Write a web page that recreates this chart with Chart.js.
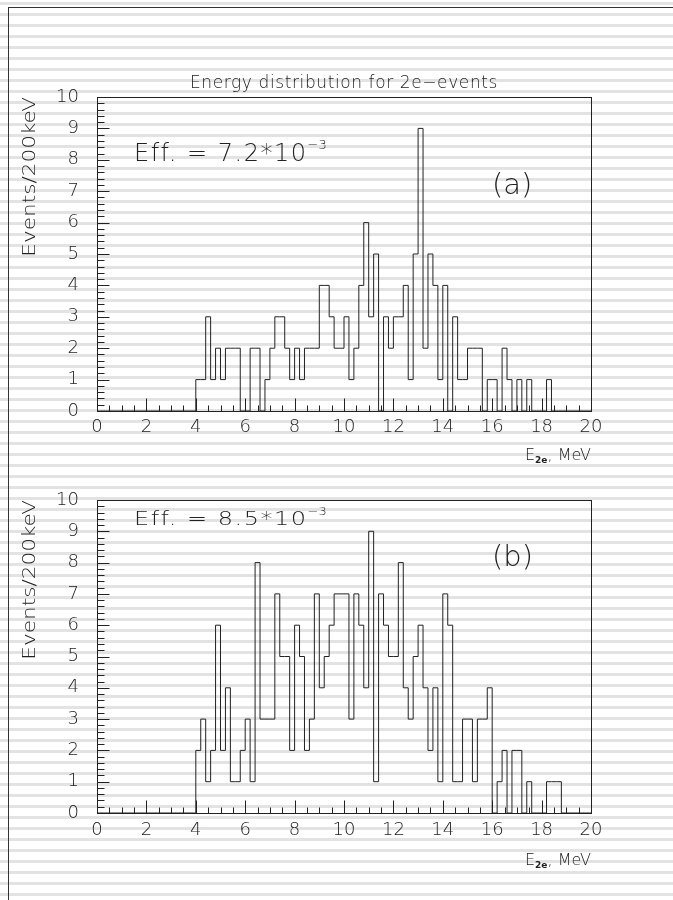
<!DOCTYPE html>
<html>
<head>
<meta charset="utf-8">
<title>Energy distribution for 2e-events</title>
<script src="https://cdn.jsdelivr.net/npm/chart.js@4.4.1/dist/chart.umd.min.js"></script>
<style>
  html, body { margin: 0; padding: 0; }
  body {
    position: relative;
    width: 673px;
    height: 900px;
    overflow: hidden;
    background: repeating-linear-gradient(to bottom, #fff 0px, #fff 2px, #e3e3e3 2px, #e3e3e3 4.6px, #fff 4.6px, #fff 11px);
    font-family: "DejaVu Sans", sans-serif;
    font-weight: 300;
    color: #222;
  }
  .page-border {
    position: absolute; left: 8px; top: 7px; right: -5px; bottom: -5px;
    border-left: 1px solid #333; border-top: 1px solid #333;
  }
  canvas { position: absolute; left: 0; }
  #chart-a { top: 0; }
  #chart-b { top: 470px; }
  .txt { position: absolute; white-space: nowrap; line-height: 1; }
  .title { left: 190px; top: 74px; font-size: 17px; letter-spacing: 0.6px; }
  .ytitle {
    left: 29px; font-size: 17px;
    transform-origin: 0 0;
    transform: rotate(-90deg) scaleX(1.27) translate(-100%, -50%);
  }
  .eff { left: 134px; font-size: 24px; letter-spacing: 1.5px; }
  .eff .sup { font-size: 13px; position: relative; top: -11.7px; letter-spacing: 0; }
  .tag { left: 492px; font-size: 29px; }
  .xtitle { right: 82px; font-size: 16px; }
  .xtitle .sub { font-size: 9px; font-weight: bold; position: relative; top: 3px; }
</style>
</head>
<body>
<div class="page-border"></div>
<canvas id="chart-a" width="673" height="470"></canvas>
<canvas id="chart-b" width="673" height="430"></canvas>

<div class="txt title">Energy distribution for 2e−events</div>

<div class="txt ytitle" style="top:97px">Events/200keV</div>
<div class="txt eff" style="top:140.7px">Eff. = 7.2*10<span class="sup">−3</span></div>
<div class="txt tag" style="top:169.5px">(a)</div>
<div class="txt xtitle" style="top:446.5px">E<span class="sub">2e</span>, MeV</div>

<div class="txt ytitle" style="top:500px">Events/200keV</div>
<div class="txt eff" style="top:504.7px; transform-origin: 0 20.3px; transform: scaleY(0.82)">Eff. = 8.5*10<span class="sup">−3</span></div>
<div class="txt tag" style="top:541.5px">(b)</div>
<div class="txt xtitle" style="top:851.5px">E<span class="sub">2e</span>, MeV</div>

<script>
// 200 keV bins, counts (first non-empty bin at 4.0 MeV)
const binWidth = 0.2;
const xRange = [0, 20];
const yRange = [0, 10];
const xTickStep = 2;
const yTickStep = 1;

const firstBinA = 4.0;
const countsA = [
  1, 1, 3, 1, 2, 1, 2, 2, 2, 0,
  0, 2, 2, 0, 1, 2, 3, 3, 2, 1,
  2, 1, 2, 2, 2, 4, 4, 3, 2, 2,
  3, 1, 2, 4, 6, 3, 5, 0, 3, 2,
  3, 3, 4, 1, 5, 9, 2, 5, 4, 1,
  4, 0, 3, 1, 1, 2, 2, 2, 0, 1,
  1, 0, 2, 1, 0, 1, 0, 1, 0, 0,
  0, 1
];

const firstBinB = 4.0;
const countsB = [
  2, 3, 1, 2, 6, 2, 4, 1, 1, 2,
  3, 1, 8, 3, 3, 3, 7, 5, 5, 2,
  6, 5, 2, 3, 7, 4, 5, 6, 7, 7,
  7, 3, 7, 6, 4, 9, 1, 7, 6, 5,
  5, 8, 4, 3, 5, 6, 4, 2, 4, 1,
  7, 6, 1, 1, 3, 3, 1, 3, 3, 4,
  0, 1, 2, 0, 2, 2, 0, 1, 0, 0,
  0, 1, 1, 1
];

const tickFont = { family: "DejaVu Sans", size: 18, weight: "300" };
const inkColor = "#222";

function histogramPoints(firstBin, counts) {
  const pts = [{ x: xRange[0], y: 0 }];
  counts.forEach((c, i) => pts.push({ x: firstBin + i * binWidth, y: c }));
  pts.push({ x: firstBin + counts.length * binWidth, y: 0 });
  pts.push({ x: xRange[1], y: 0 });
  return pts;
}

// frame + inward ticks, the way the old PAW/ROOT plots look
const rootFrame = {
  id: "rootFrame",
  afterDatasetsDraw(chart) {
    const { ctx, chartArea: a, scales } = chart;
    const px = (v) => Math.round(scales.x.getPixelForValue(v)) + 0.5;
    const py = (v) => Math.round(scales.y.getPixelForValue(v)) + 0.5;
    const left = Math.round(a.left) + 0.5;
    const bottom = Math.round(a.bottom) + 0.5;
    ctx.save();
    ctx.strokeStyle = inkColor;
    ctx.lineWidth = 1;
    ctx.beginPath();
    for (let i = 0; i <= 40; i++) {
      const v = i * 0.5;
      const len = v % xTickStep === 0 ? 13 : 6;
      ctx.moveTo(px(v), bottom);
      ctx.lineTo(px(v), bottom - len);
    }
    for (let i = 0; i <= 50; i++) {
      const v = i * 0.2;
      const len = i % 5 === 0 ? 12 : 7;
      ctx.moveTo(left, py(v));
      ctx.lineTo(left + len, py(v));
    }
    ctx.stroke();
    ctx.strokeRect(left, Math.round(a.top) + 0.5, Math.round(a.right - a.left), Math.round(a.bottom - a.top));
    ctx.restore();
  },
};

function makeChart(id, points, padTop, xAxisHeight, labelPad) {
  return new Chart(document.getElementById(id), {
    type: "line",
    data: {
      datasets: [{
        data: points,
        stepped: true,
        borderColor: inkColor,
        borderWidth: 1,
        pointRadius: 0,
        fill: false,
      }],
    },
    options: {
      responsive: false,
      animation: false,
      layout: { padding: { top: padTop, right: 82, bottom: 0, left: 0 } },
      plugins: { legend: { display: false }, tooltip: { enabled: false } },
      scales: {
        x: {
          type: "linear",
          min: xRange[0],
          max: xRange[1],
          afterFit: (s) => { s.height = xAxisHeight; },
          grid: { display: false, drawTicks: false },
          border: { display: false },
          ticks: { stepSize: xTickStep, autoSkip: false, maxRotation: 0, padding: labelPad, color: inkColor, font: tickFont },
        },
        y: {
          min: yRange[0],
          max: yRange[1],
          afterFit: (s) => { s.width = 97; },
          grid: { display: false, drawTicks: false },
          border: { display: false },
          ticks: { stepSize: yTickStep, autoSkip: false, padding: 18, color: inkColor, font: tickFont },
        },
      },
    },
    plugins: [rootFrame],
  });
}

makeChart("chart-a", histogramPoints(firstBinA, countsA), 97, 59, 6);
makeChart("chart-b", histogramPoints(firstBinB, countsB), 30, 87, 7);
</script>
</body>
</html>
